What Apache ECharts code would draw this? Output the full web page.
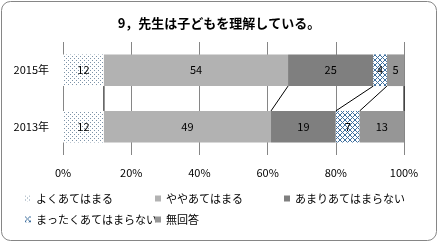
<!DOCTYPE html>
<html><head><meta charset="utf-8">
<script src="https://cdn.jsdelivr.net/npm/echarts@6/dist/echarts.min.js"></script>
<style>html,body{margin:0;padding:0;background:#fff}#c{width:438px;height:242px}</style>
</head><body><div id="c"></div>
<script>
const categories = ['2015年', '2013年'];
const seriesNames = ['よくあてはまる', 'ややあてはまる', 'あまりあてはまらない', 'まったくあてはまらない', '無回答'];
const yoku = [12, 12];
const yaya = [54, 49];
const amari = [25, 19];
const mattaku = [4, 7];
const mukaitou = [5, 13];
const xTicks = [0, 20, 40, 60, 80, 100];

function dotPattern() {
  const c = document.createElement('canvas'); c.width = 4; c.height = 4;
  const g = c.getContext('2d'); g.fillStyle = '#fff'; g.fillRect(0, 0, 4, 4);
  g.fillStyle = '#7d93a8'; g.fillRect(0, 0, 1, 1); g.fillRect(2, 2, 1, 1);
  return c;
}
function crossPattern() {
  const n = 5;
  const c = document.createElement('canvas'); c.width = n; c.height = n;
  const g = c.getContext('2d'); g.fillStyle = '#fff'; g.fillRect(0, 0, n, n);
  g.strokeStyle = '#3f6f9e'; g.lineWidth = 1;
  g.beginPath(); g.moveTo(0, 0); g.lineTo(n, n); g.moveTo(n, 0); g.lineTo(0, n); g.stroke();
  return c;
}
const colors = [
  {image: dotPattern(), repeat: 'repeat'},
  '#b2b2b2', '#7f7f7f',
  {image: crossPattern(), repeat: 'repeat'},
  '#969696'
];
const values = [yoku, yaya, amari, mattaku, mukaitou];
const GAP = 0.44;

const chart = echarts.init(document.getElementById('c'), null, {renderer: 'canvas'});
const font = '"Noto Sans CJK JP", "Noto Sans", sans-serif';

const barSeries = values.map((v, i) => ({
  name: seriesNames[i], type: 'bar', stack: 'a', data: v,
  barCategoryGap: (GAP * 100) + '%',
  itemStyle: {color: colors[i]},
  label: {show: true, position: 'inside', color: '#000', fontSize: 11, fontFamily: font},
  emphasis: {disabled: true}
}));

// cumulative boundaries for connector lines
const bounds = [];
let c0 = 0, c1 = 0;
values.forEach(v => { c0 += v[0]; c1 += v[1]; bounds.push([c0, c1]); });

const connector = {
  type: 'custom', name: 'conn', z: 5, silent: true,
  data: bounds,
  encode: {x: [0, 1]},
  renderItem: function (params, api) {
    const p0 = api.coord([api.value(0), 0]);
    const p1 = api.coord([api.value(1), 1]);
    const band = api.size([0, 1])[1];
    const h = band * (1 - GAP) / 2;
    return {type: 'line', shape: {x1: p0[0], y1: p0[1] + h, x2: p1[0], y2: p1[1] - h},
      style: {stroke: '#000', lineWidth: 1}};
  }
};

const legendPos = [[25, 193], [155, 193], [284, 193], [25, 214], [155, 214]];
const legends = seriesNames.map((n, i) => ({
  data: [n], left: legendPos[i][0], top: legendPos[i][1], itemWidth: 6, itemHeight: 6,
  icon: 'rect', padding: 0, selectedMode: false,
  textStyle: {fontSize: 11, color: '#000', fontFamily: font}
}));

chart.setOption({
  animation: false,
  title: {text: '9，先生は子どもを理解している。', left: 'center', top: 12,
    textStyle: {fontSize: 13, fontWeight: 'bold', color: '#000', fontFamily: font}},
  legend: legends,
  grid: {left: 63, right: 34, top: 42, bottom: 87, containLabel: false},
  xAxis: {type: 'value', min: xTicks[0], max: xTicks[xTicks.length - 1], interval: 20,
    axisLine: {show: false}, axisTick: {show: false},
    splitLine: {show: true, lineStyle: {color: '#868686', width: 1}},
    axisLabel: {formatter: '{value}%', color: '#000', fontSize: 11, margin: 12, fontFamily: font}},
  yAxis: {type: 'category', data: categories, inverse: true,
    axisLine: {show: false}, axisTick: {show: false},
    axisLabel: {color: '#000', fontSize: 11, margin: 14, fontFamily: font}},
  graphic: [{type: 'rect', shape: {x: 1.5, y: 1.5, width: 435, height: 239, r: 9},
    style: {fill: null, stroke: '#868686', lineWidth: 1}, silent: true, z: -1}],
  series: barSeries.concat([connector])
});
</script></body></html>
